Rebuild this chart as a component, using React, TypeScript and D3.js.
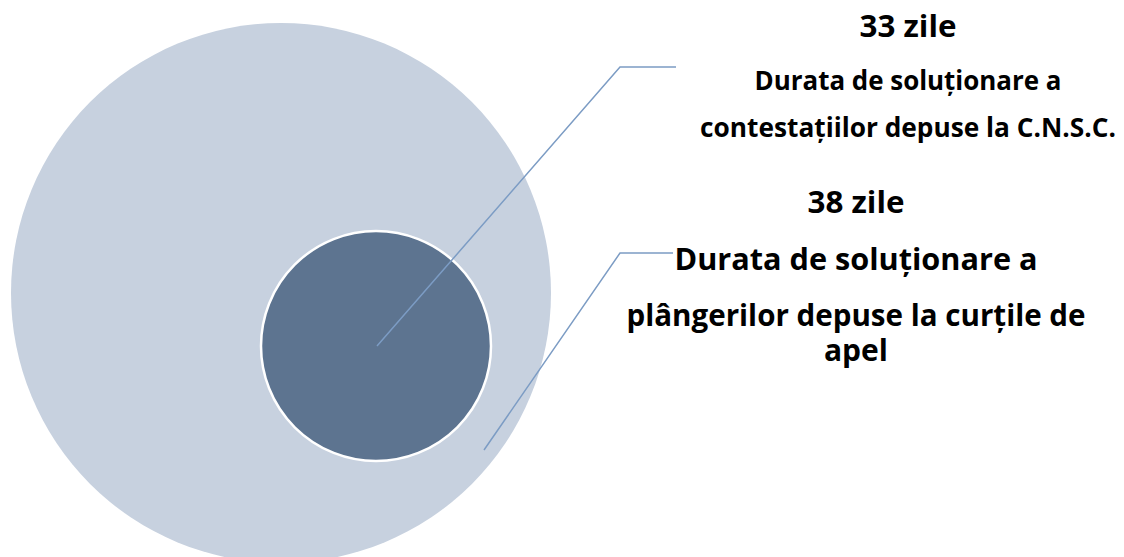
import React, { useEffect, useRef } from "react";
import * as d3 from "d3";

// values shown in the callouts (days)
const values = [33, 38];
const valueLabels = ["33 zile", "38 zile"];
const descriptions = [
    ["Durata de soluționare a", "contestațiilor depuse la C.N.S.C."],
    ["Durata de soluționare a", "plângerilor depuse la curțile de", "apel"],
];
const descWidths = [
    [307, 416],
    [363, 459, 64],
];

export default function App() {
    const chart = useRef<SVGSVGElement>(null);

    useEffect(() => {
        const width = 1124;
        const height = 557;
        const svg = d3.select(chart.current)
            .attr("width", width)
            .attr("height", height);

        // circles: outer = bigger value, inner = smaller value
        const circles = [
            { r: 270, cx: 281, cy: 293, fill: "#c7d1df", stroke: "none" },
            { r: 115, cx: 376, cy: 346, fill: "#5d7490", stroke: "#ffffff" },
        ];

        svg.selectAll(".ring")
            .data(circles)
            .enter()
            .append("circle")
                .attr("class", "ring")
                .attr("cx", d => d.cx)
                .attr("cy", d => d.cy)
                .attr("r", d => d.r)
                .attr("fill", d => d.fill)
                .attr("stroke", d => d.stroke)
                .attr("stroke-width", 2.5);

        // leader lines (inner circle -> first label, outer ring -> second label)
        const leaders = [
            [[377, 346], [620, 67], [676, 67]],
            [[484, 450], [620, 253], [673, 253]],
        ];
        const line = d3.line();
        svg.selectAll(".leader")
            .data(leaders)
            .enter()
            .append("path")
                .attr("class", "leader")
                .attr("d", d => line(d as [number, number][]))
                .attr("fill", "none")
                .attr("stroke", "#7c9cc4")
                .attr("stroke-width", 1.5);

        const blocks = [
            { x: 908, valueY: 37, valueSize: 31, lineYs: [90, 137], size: 26 },
            { x: 856, valueY: 213, valueSize: 31, lineYs: [270, 326, 361], size: 30 },
        ];

        const g = svg.append("g")
            .attr("font-family", "'Open Sans', sans-serif")
            .attr("font-weight", "bold")
            .attr("fill", "#000")
            .attr("text-anchor", "middle");

        values.forEach((v, i) => {
            const b = blocks[i];
            g.append("text")
                .attr("x", b.x)
                .attr("y", b.valueY)
                .attr("font-size", b.valueSize)
                .attr("textLength", 97)
                .attr("lengthAdjust", "spacingAndGlyphs")
                .text(valueLabels[i]);
            descriptions[i].forEach((t, j) => {
                g.append("text")
                    .attr("x", b.x)
                    .attr("y", b.lineYs[j])
                    .attr("font-size", b.size)
                    .attr("textLength", descWidths[i][j])
                    .attr("lengthAdjust", "spacingAndGlyphs")
                    .text(t);
            });
        });

        return () => {
            svg.selectAll("*").remove();
        };
    }, []);

    return (
        <svg ref={chart} style={{ position: "absolute", left: 0, top: 0 }}></svg>
    );
}
